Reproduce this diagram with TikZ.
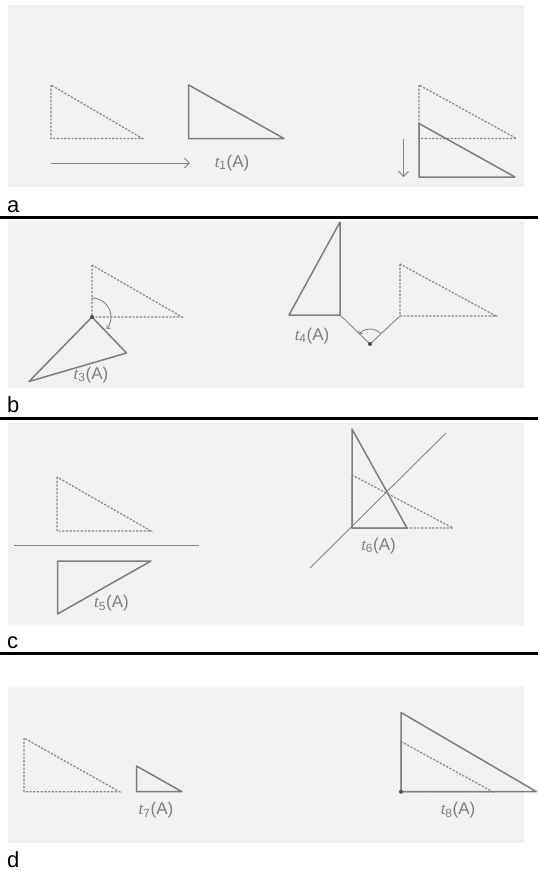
\documentclass[tikz,border=0pt]{standalone}
\usepackage{fontspec}
\setmainfont{Liberation Sans}
\newfontfamily\serifit{Liberation Serif}
\usepackage{tikz}
\usetikzlibrary{arrows.meta}
\definecolor{scangray}{HTML}{F1F1F1}
\definecolor{penline}{HTML}{7E7E7E}
\definecolor{penlight}{HTML}{878787}
\newcommand{\tA}[1]{{\serifit\itshape t}\textsubscript{#1}(A)}

\begin{document}
\begin{tikzpicture}[x=1pt,y=-1pt,
  figline/.style={penline,line width=1.5pt,line join=round},
  ghost/.style={penlight,line width=1.2pt,dash pattern=on 2.2pt off 1.5pt},
  guide/.style={penlight,line width=0.9pt},
  barb/.style={-{Straight Barb[length=5pt,width=10pt]}},
  lbl/.style={text=penline,font=\fontsize{17}{17}\selectfont,inner sep=0pt},
  tag/.style={font=\fontsize{22}{22}\selectfont,inner sep=0pt,anchor=west},
  pivot/.style={fill=black!70}]
  \useasboundingbox (0,0) rectangle (538,871);
  \foreach \ytop/\ybot in {5/187,221/388,423/625,687/843}
    \fill[scangray] (7.5,\ytop) rectangle (524,\ybot);
  \foreach \y in {217,418,653}
    \draw[line width=3pt] (0,\y) -- (538,\y);
  \node[tag] (taga) at (7,207) {a};
  \node[tag] (tagb) at (7,405) {b};
  \node[tag] (tagc) at (7,643) {c};
  \node[tag] (tagd) at (7,860) {d};

  \draw[ghost] (51,85) -- (51,138.5) -- (142.5,138.5) -- cycle;
  \draw[figline] (188.7,85) -- (188.7,138.5) -- (284,138.5) -- cycle;
  \draw[guide,barb] (51,163) -- (190,163);
  \node[lbl] (t1) at (232,163) {\tA{1}};
  \draw[ghost] (419,85) -- (419,138.5) -- (516.5,138.5) -- cycle;
  \draw[figline] (419,123.5) -- (419,177) -- (515,177) -- cycle;
  \draw[guide,barb] (403.5,139) -- (403.5,177);

  \draw[ghost] (92,265) -- (92,317) -- (182,317) -- cycle;
  \draw[figline] (92,317) -- (126.5,353) -- (29,381.5) -- cycle;
  \draw[guide,-{Straight Barb[length=3pt,width=5pt]}] (92,298) arc[start angle=-90,end angle=40,radius=19];
  \fill[pivot] (92,317) circle (2);
  \node[lbl] (t3) at (91,375) {\tA{3}};
  \draw[figline] (289,315) -- (340,315) -- (340,222) -- cycle;
  \draw[guide] (340,315) -- (370,344) -- (400,316);
  \draw[ghost] (400,264) -- (400,316) -- (496,316) -- cycle;
  \draw[guide,-{Straight Barb[length=3pt,width=5pt]}] (380.6,333.4) arc[start angle=-45,end angle=-140,radius=15];
  \fill[pivot] (370,344) circle (2);
  \node[lbl] (t4) at (312,336) {\tA{4}};

  \draw[ghost] (57,477) -- (57,531) -- (151,531) -- cycle;
  \draw[guide] (13.5,545.5) -- (198.5,545.5);
  \draw[figline] (57.5,561) -- (151,561) -- (57.5,614) -- cycle;
  \node[lbl] (t5) at (111.5,603) {\tA{5}};
  \draw[guide] (310,568) -- (446,433);
  \draw[ghost] (352,475) -- (352,528) -- (453,528) -- cycle;
  \draw[figline] (352,429) -- (352,528) -- (407,528) -- cycle;
  \node[lbl] (t6) at (378.5,546) {\tA{6}};

  \draw[ghost] (24,738) -- (24,791.7) -- (119.5,791.7) -- cycle;
  \draw[figline] (136.5,766) -- (136.5,791.7) -- (182,791.7) -- cycle;
  \node[lbl] (t7) at (156,810) {\tA{7}};
  \draw[ghost] (401,741.5) -- (401,791.7) -- (492.5,791.7) -- cycle;
  \draw[figline] (401,712.5) -- (401,791.7) -- (536.5,791.7) -- cycle;
  \fill[pivot] (401,791.7) circle (2);
  \node[lbl] (t8) at (458,810) {\tA{8}};
\end{tikzpicture}
\end{document}
